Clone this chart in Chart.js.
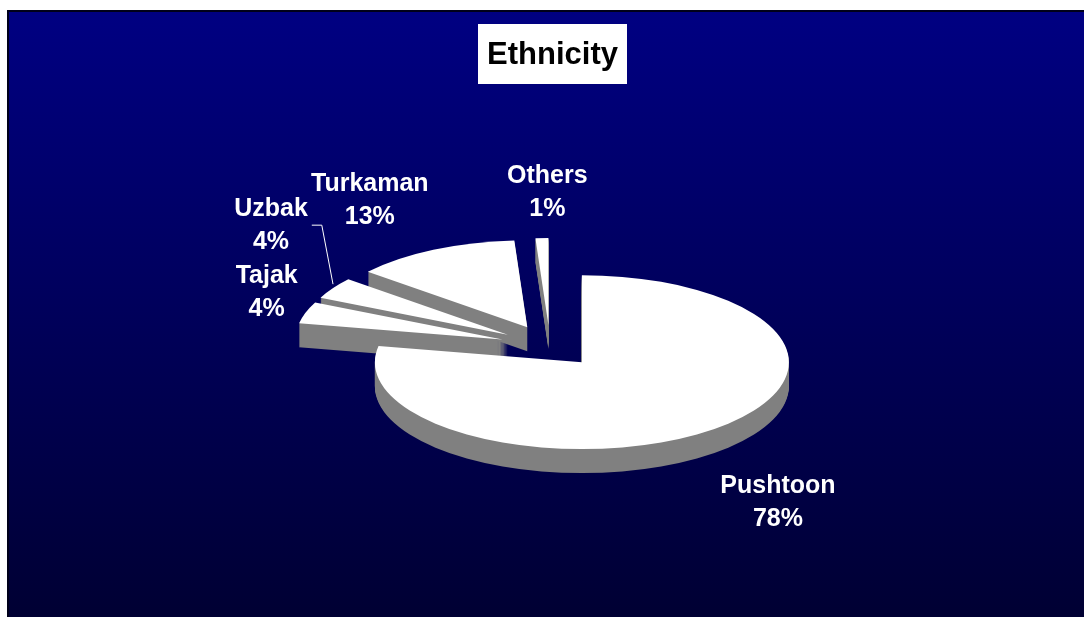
<!DOCTYPE html>
<html lang="en">
<head>
<meta charset="UTF-8">
<title>Ethnicity</title>
<script src="https://cdn.jsdelivr.net/npm/chart.js"></script>
<style>
  html, body { margin: 0; padding: 0; background: #fff; }
  canvas { display: block; }
</style>
</head>
<body>
<canvas id="ethnicityChart" width="1084" height="621"></canvas>
<script>
const chartTitle = 'Ethnicity';
const groups = ['Pushtoon', 'Tajak', 'Uzbak', 'Turkaman', 'Others'];
const shares = [78, 4, 4, 13, 1];

const FONT = '"Liberation Sans", Arial, sans-serif';
const TILT = 0.42;     // vertical squash of the pie top
const DEPTH = 24;      // thickness of the pie
const SIDE = '#808080';

// label tweaks (px) and which labels hang on a leader line
const labelNudge = [[1, 35], [30, -4], [4, -36], [-18, -4], [8, 5]];
const leader = [false, false, true, false, false];

function sliceGeom(arc) {
    const p = arc.getProps(['x', 'y', 'startAngle', 'endAngle', 'outerRadius'], true);
    const mid = (p.startAngle + p.endAngle) / 2;
    const e = arc.options.offset || 0;
    return { p, mid, ox: Math.cos(mid) * e, oy: Math.sin(mid) * e };
}

function fillSlice(ctx, g, lift, color) {
    const { p, ox, oy } = g;
    ctx.save();
    ctx.translate(0, p.y + lift);
    ctx.scale(1, TILT);
    ctx.translate(0, -p.y);
    ctx.beginPath();
    ctx.moveTo(p.x + ox, p.y + oy);
    ctx.arc(p.x + ox, p.y + oy, p.outerRadius, p.startAngle, p.endAngle);
    ctx.closePath();
    ctx.fillStyle = color;
    ctx.fill();
    ctx.restore();
}

const backdrop = {
    id: 'backdrop',
    beforeDraw(chart) {
        const ctx = chart.ctx;
        ctx.save();
        ctx.fillStyle = '#fff';
        ctx.fillRect(0, 0, chart.width, chart.height);
        const grad = ctx.createLinearGradient(0, 10, 0, 617);
        grad.addColorStop(0, '#000082');
        grad.addColorStop(1, '#000033');
        ctx.fillStyle = grad;
        ctx.fillRect(7, 10, chart.width - 7, 607);
        ctx.strokeStyle = '#00001a';
        ctx.lineWidth = 2;
        ctx.beginPath();
        ctx.moveTo(8, 617);
        ctx.lineTo(8, 11);
        ctx.lineTo(chart.width, 11);
        ctx.stroke();

        // title in a white box
        ctx.fillStyle = '#fff';
        ctx.fillRect(478, 24, 149, 60);
        ctx.fillStyle = '#000';
        ctx.font = 'bold 31px ' + FONT;
        ctx.textAlign = 'center';
        ctx.textBaseline = 'middle';
        ctx.fillText(chartTitle, 552.5, 55);
        ctx.restore();
    }
};

// flattened, extruded pie drawn back to front
const pie3d = {
    id: 'pie3d',
    beforeDatasetsDraw(chart) {
        const ctx = chart.ctx;
        const geoms = chart.getDatasetMeta(0).data.map(sliceGeom);
        const order = geoms.map((g, i) => i)
            .sort((a, b) => geoms[a].oy - geoms[b].oy);
        order.forEach(i => {
            const g = geoms[i];
            for (let k = DEPTH; k >= 1; k--) fillSlice(ctx, g, k, SIDE);
            fillSlice(ctx, g, 0, '#ffffff');
        });
        return false;
    },
    afterDraw(chart) {
        const ctx = chart.ctx;
        const meta = chart.getDatasetMeta(0);
        const total = shares.reduce((s, v) => s + v, 0);
        ctx.save();
        ctx.font = 'bold 25px ' + FONT;
        ctx.fillStyle = '#fff';
        ctx.strokeStyle = '#fff';
        ctx.textAlign = 'center';
        ctx.textBaseline = 'middle';
        meta.data.forEach((arc, i) => {
            const { p, mid, ox, oy } = sliceGeom(arc);
            const c = Math.cos(mid), s = Math.sin(mid);
            const ax = p.x + ox, ay = p.y + oy * TILT;
            const lines = [groups[i], Math.round(shares[i] / total * 100) + '%'];
            const w = Math.max(...lines.map(t => ctx.measureText(t).width));
            const h = 66;
            const r = p.outerRadius * 1.2;
            const lx = ax + r * c + c * w / 2 + labelNudge[i][0];
            const ly = ay + r * s * TILT + s * h / 2 + labelNudge[i][1];
            ctx.fillText(lines[0], lx, ly - 16.5);
            ctx.fillText(lines[1], lx, ly + 16.5);
            if (leader[i]) {
                const ex = ax + p.outerRadius * c;
                const ey = ay + p.outerRadius * s * TILT;
                const sx = lx + ctx.measureText(lines[0]).width / 2 + 4;
                ctx.lineWidth = 1;
                ctx.beginPath();
                ctx.moveTo(sx, ly);
                ctx.lineTo(sx + 10, ly);
                ctx.lineTo(ex, ey - 4);
                ctx.stroke();
            }
        });
        ctx.restore();
    }
};

new Chart(document.getElementById('ethnicityChart'), {
    type: 'pie',
    data: {
        labels: groups,
        datasets: [{
            data: shares,
            backgroundColor: '#ffffff',
            borderWidth: 0,
            offset: 50,     // explosion of every slice
            radius: 207
        }]
    },
    options: {
        responsive: false,
        animation: false,
        events: [],
        layout: { padding: { left: 216, right: 200, top: 100, bottom: 29 } },
        plugins: {
            legend: { display: false },
            tooltip: { enabled: false }
        }
    },
    plugins: [backdrop, pie3d]
});
</script>
</body>
</html>
